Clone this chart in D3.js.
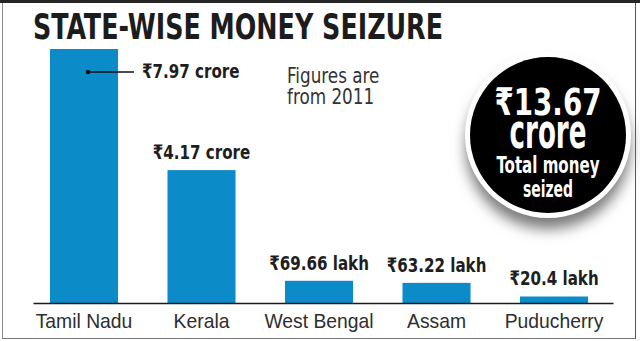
<!DOCTYPE html>
<html>
<head>
<meta charset="utf-8">
<script src="https://cdn.jsdelivr.net/npm/d3@7"></script>
<style>
  html, body { margin: 0; padding: 0; background: #fff; }
  svg { display: block; font-family: "Liberation Sans Narrow", "DejaVu Sans Condensed", "Noto Sans", sans-serif; }
</style>
</head>
<body>
<svg id="chart" width="640" height="341"></svg>
<script>
// data (values in crore)
const states = ["Tamil Nadu", "Kerala", "West Bengal", "Assam", "Puducherry"];
const seizedCrore = [7.97, 4.17, 0.6966, 0.6322, 0.204];
const valueLabels = ["₹7.97 crore", "₹4.17 crore", "₹69.66 lakh", "₹63.22 lakh", "₹20.4 lakh"];
const titleText = "STATE-WISE MONEY SEIZURE";
const noteLines = ["Figures are", "from 2011"];
const totalLines = ["crore", "Total money", "seized"];

const svg = d3.select("#chart");
const W = 640, H = 341;
const baseY = 303;
const barColor = "#0b8cc9";

// squeeze text horizontally, the print font is narrower than what we have
function condense(sel, k) {
  sel.each(function () {
    const w = this.getComputedTextLength();
    d3.select(this).attr("textLength", w * k).attr("lengthAdjust", "spacingAndGlyphs");
  });
}

// frame
svg.append("rect").attr("x", 0).attr("y", 0).attr("width", W).attr("height", 3).attr("fill", "#262626");
svg.append("line").attr("x1", 2.5).attr("x2", 2.5).attr("y1", 3).attr("y2", 339).attr("stroke", "#8a8a8a");
svg.append("line").attr("x1", 635.5).attr("x2", 635.5).attr("y1", 3).attr("y2", 339).attr("stroke", "#555");
svg.append("line").attr("x1", 2).attr("x2", 636).attr("y1", 338.5).attr("y2", 338.5).attr("stroke", "#777");

// title
svg.append("text")
  .attr("x", 33).attr("y", 38.5)
  .attr("font-size", 35).attr("font-weight", "bold")
  .attr("fill", "#1c1c1c")
  .attr("textLength", 410).attr("lengthAdjust", "spacingAndGlyphs")
  .text(titleText);

// scales
const x = d3.scaleBand()
  .domain(states)
  .range([33, 613])
  .paddingInner(0.421)
  .paddingOuter(0.1785)
  .align(0.405);

const y = d3.scaleLinear()
  .domain([0, d3.max(seizedCrore)])
  .range([baseY, 49]);

const data = states.map((s, i) => ({ state: s, value: seizedCrore[i], label: valueLabels[i] }));

// bars
svg.append("g").selectAll("rect")
  .data(data)
  .join("rect")
  .attr("x", d => x(d.state))
  .attr("y", d => y(d.value))
  .attr("width", x.bandwidth())
  .attr("height", d => baseY - y(d.value))
  .attr("fill", barColor);

// axis
const axis = svg.append("g")
  .attr("transform", `translate(0,${baseY})`)
  .call(d3.axisBottom(x).tickSize(0).tickSizeOuter(0).tickPadding(10));
axis.select(".domain").attr("stroke", "#1a1a1a").attr("stroke-width", 1.5);
axis.selectAll("text")
  .attr("font-size", 21)
  .attr("font-family", null)
  .attr("fill", "#2e2e2e")
  .call(condense, 0.92);

// value labels
const first = data[0];
const dotX = x(first.state) + x.bandwidth() / 2 + 4;
const dotY = y(first.value) + 23;
svg.append("circle").attr("cx", dotX).attr("cy", dotY).attr("r", 2.2).attr("fill", "#111");
svg.append("line")
  .attr("x1", dotX).attr("x2", dotX + 46)
  .attr("y1", dotY).attr("y2", dotY)
  .attr("stroke", "#111").attr("stroke-width", 1.3);

svg.append("g").selectAll("text")
  .data(data)
  .join("text")
  .attr("x", (d, i) => i === 0 ? dotX + 54 : x(d.state) + x.bandwidth() / 2)
  .attr("y", (d, i) => i === 0 ? dotY + 6 : y(d.value) - 11)
  .attr("text-anchor", (d, i) => i === 0 ? "start" : "middle")
  .attr("font-size", 20)
  .attr("font-weight", "bold")
  .attr("fill", "#1e1e1e")
  .text(d => d.label)
  .call(condense, 0.84);

// note
svg.append("g").selectAll("text")
  .data(noteLines)
  .join("text")
  .attr("x", 287)
  .attr("y", (d, i) => 83.3 + i * 21)
  .attr("font-size", 21)
  .attr("fill", "#333")
  .text(d => d)
  .call(condense, 0.89);

// total badge
const cx = 548, cy = 135;
const defs = svg.append("defs");
defs.append("filter")
  .attr("id", "shadow")
  .attr("x", "-50%").attr("y", "-50%").attr("width", "200%").attr("height", "200%")
  .append("feGaussianBlur").attr("stdDeviation", 7);

svg.append("circle").attr("cx", cx).attr("cy", cy + 12).attr("r", 82)
  .attr("fill", "#7a7a7a").attr("filter", "url(#shadow)");
svg.append("circle").attr("cx", cx).attr("cy", cy).attr("r", 83).attr("fill", "#fff");
svg.append("circle").attr("cx", cx).attr("cy", cy).attr("r", 78).attr("fill", "#000");

const total = d3.sum(seizedCrore);
const badge = [
  { t: "₹" + d3.format(".2f")(total), y: 115, size: 38, len: 107 },
  { t: totalLines[0], y: 148, size: 48, len: 77 },
  { t: totalLines[1], y: 173, size: 23, len: 103 },
  { t: totalLines[2], y: 197, size: 23, len: 50 }
];
svg.append("g").selectAll("text")
  .data(badge)
  .join("text")
  .attr("x", cx)
  .attr("y", d => d.y)
  .attr("text-anchor", "middle")
  .attr("font-size", d => d.size)
  .attr("font-weight", "bold")
  .attr("fill", "#fff")
  .attr("textLength", d => d.len)
  .attr("lengthAdjust", "spacingAndGlyphs")
  .text(d => d.t);
</script>
</body>
</html>
